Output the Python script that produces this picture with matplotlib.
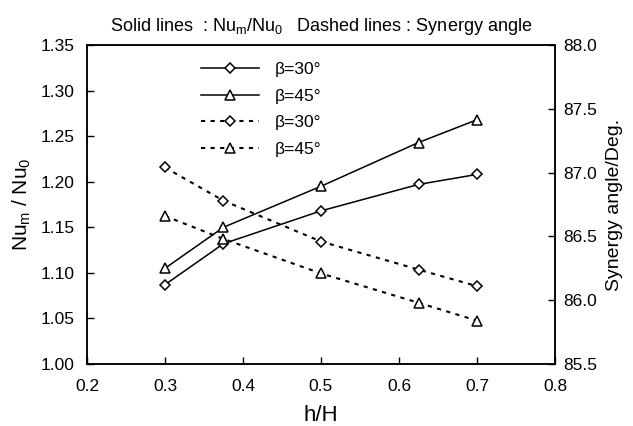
import matplotlib.pyplot as plt

plt.rcParams["font.family"] = ["Liberation Sans", "DejaVu Sans"]
plt.rcParams["mathtext.fontset"] = "custom"
plt.rcParams["mathtext.rm"] = "Liberation Sans"
plt.rcParams["mathtext.it"] = "Liberation Sans"

# data
h_ratio = [0.3, 0.375, 0.5, 0.625, 0.7]
nu_beta30 = [1.087, 1.132, 1.168, 1.197, 1.208]
nu_beta45 = [1.105, 1.150, 1.195, 1.243, 1.268]
syn_beta30 = [87.04, 86.78, 86.46, 86.24, 86.11]
syn_beta45 = [86.66, 86.48, 86.21, 85.98, 85.84]

fig = plt.figure(figsize=(6.33, 4.26), dpi=100)
ax = fig.add_axes([0.1374, 0.1455, 0.7394, 0.7489])
ax2 = ax.twinx()

dash = (0, (2.0, 2.6))
h1, = ax.plot(h_ratio, nu_beta30, color="black", lw=1.1, marker="D", ms=5,
              mfc="white", mec="black", mew=1.1, label="β=30°")
h2, = ax.plot(h_ratio, nu_beta45, color="black", lw=1.1, marker="^", ms=7,
              mfc="white", mec="black", mew=1.1, label="β=45°")
h3, = ax2.plot(h_ratio, syn_beta30, color="black", lw=1.5, ls=dash, marker="D", ms=5,
               mfc="white", mec="black", mew=1.1, label="β=30°")
h4, = ax2.plot(h_ratio, syn_beta45, color="black", lw=1.5, ls=dash, marker="^", ms=7,
               mfc="white", mec="black", mew=1.1, label="β=45°")

ax.set_xlim(0.2, 0.8)
ax.set_ylim(1.00, 1.35)
ax2.set_ylim(85.5, 88.0)
ax.set_xticks([0.2, 0.3, 0.4, 0.5, 0.6, 0.7, 0.8])
ax.set_yticks([1.00, 1.05, 1.10, 1.15, 1.20, 1.25, 1.30, 1.35])
ax2.set_yticks([85.5, 86.0, 86.5, 87.0, 87.5, 88.0])
ax.xaxis.set_major_formatter(plt.FormatStrFormatter("%.1f"))
ax.yaxis.set_major_formatter(plt.FormatStrFormatter("%.2f"))
ax2.yaxis.set_major_formatter(plt.FormatStrFormatter("%.1f"))

ax.tick_params(direction="in", length=5, width=1, labelsize=12.5)
ax.tick_params(axis="x", pad=11)
ax.tick_params(axis="y", pad=9)
ax2.tick_params(direction="in", length=5, width=1, labelsize=12.5, pad=6)
for a in (ax, ax2):
    for s in a.spines.values():
        s.set_linewidth(1.1)

ax.set_xlabel("h/H", fontsize=16, labelpad=8)
ax.set_ylabel(r"Nu$_\mathrm{m}$ / Nu$_\mathrm{0}$", fontsize=15, labelpad=5)
ax2.set_ylabel("Synergy angle/Deg.", fontsize=14, labelpad=6)
ax.set_title(r"Solid lines  : Nu$_\mathrm{m}$/Nu$_\mathrm{0}$   Dashed lines : Synergy angle",
             fontsize=13, pad=10)

leg = ax2.legend(handles=[h1, h2, h3, h4], loc="upper left", bbox_to_anchor=(0.211, 0.995),
                 frameon=False, fontsize=12.5, handlelength=3.3, handletextpad=0.95,
                 labelspacing=0.65)

fig.savefig("out.png", dpi=100)
